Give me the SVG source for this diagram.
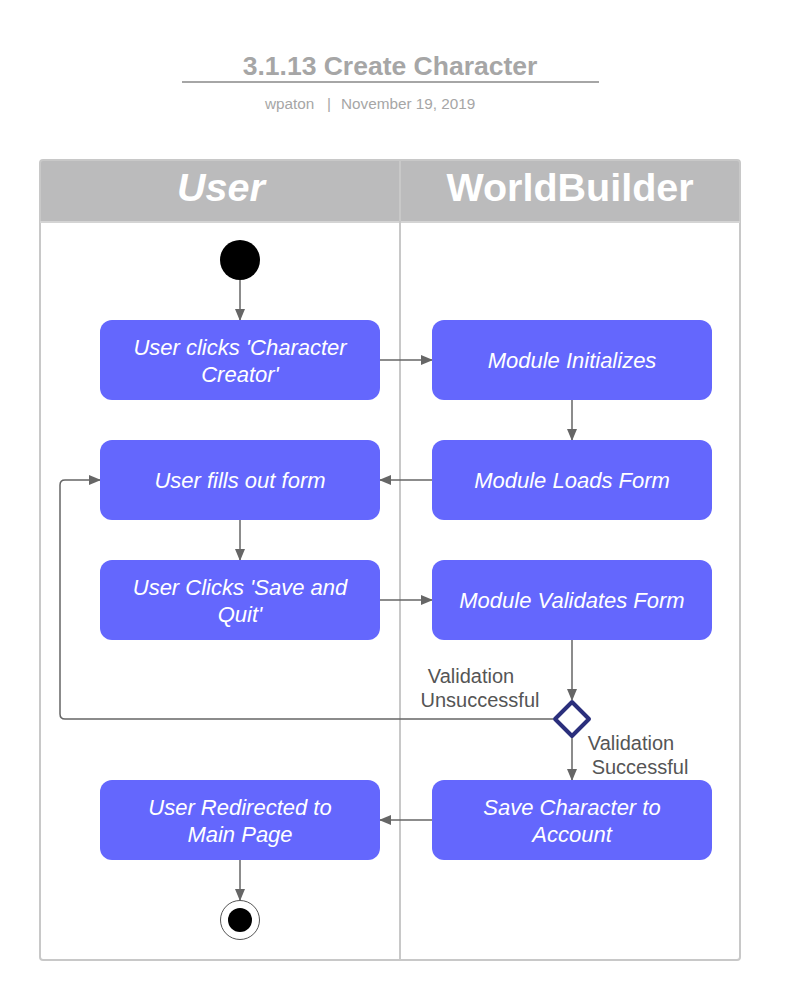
<svg xmlns="http://www.w3.org/2000/svg" width="800" height="1000" viewBox="0 0 800 1000">
  <defs>
    <marker id="arrow" viewBox="0 0 12 12" refX="11" refY="6" markerWidth="12" markerHeight="12" markerUnits="userSpaceOnUse" orient="auto">
      <path d="M0,1 L12,6 L0,11 Z" fill="#666666"/>
    </marker>
    <style>
      .title { font-family: "Liberation Sans", Arial, sans-serif; font-size: 26.5px; font-weight: bold; fill: #a6a6a6; }
      .sub { font-family: "Liberation Sans", Arial, sans-serif; font-size: 15.3px; fill: #a6a6a6; }
      .lane-head { font-family: "Liberation Sans", Arial, sans-serif; font-size: 39.5px; font-weight: bold; fill: #ffffff; }
      .act rect { fill: #6467fd; }
      .act text { font-family: "Liberation Sans", Arial, sans-serif; font-size: 22px; font-style: italic; fill: #ffffff; text-anchor: middle; }
      .edge { fill: none; stroke: #666666; stroke-width: 1.5; marker-end: url(#arrow); }
      .lbl { font-family: "Liberation Sans", Arial, sans-serif; font-size: 20px; fill: #555555; text-anchor: middle; }
    </style>
  </defs>

  <rect width="800" height="1000" fill="#ffffff"/>

  <!-- Title block -->
  <g id="title">
    <text class="title" x="390" y="75" text-anchor="middle">3.1.13 Create Character</text>
    <line x1="182" y1="82" x2="599" y2="82" stroke="#a6a6a6" stroke-width="2"/>
    <text class="sub" x="265" y="109">wpaton</text>
    <text class="sub" x="327" y="109">|</text>
    <text class="sub" x="341" y="109">November 19, 2019</text>
  </g>

  <!-- Swimlane frame -->
  <g id="swimlanes">
    <path d="M40,222 V163 Q40,160 43,160 H737 Q740,160 740,163 V222 Z" fill="#bbbbbc"/>
    <rect x="40" y="160" width="700" height="800" rx="3" fill="none" stroke="#c8c8c8" stroke-width="2"/>
    <line x1="40" y1="222" x2="740" y2="222" stroke="#d4d4d4" stroke-width="2"/>
    <line x1="400" y1="160" x2="400" y2="960" stroke="#c8c8c8" stroke-width="2"/>
    <text class="lane-head" x="221" y="201" text-anchor="middle" font-style="italic">User</text>
    <text class="lane-head" x="570" y="201" text-anchor="middle">WorldBuilder</text>
  </g>

  <!-- Connectors -->
  <g id="connectors">
    <line class="edge" x1="240" y1="280" x2="240" y2="320"/>
    <line class="edge" x1="380" y1="360" x2="432" y2="360"/>
    <line class="edge" x1="572" y1="400" x2="572" y2="440"/>
    <line class="edge" x1="432" y1="480" x2="380" y2="480"/>
    <line class="edge" x1="240" y1="520" x2="240" y2="560"/>
    <line class="edge" x1="380" y1="600" x2="432" y2="600"/>
    <line class="edge" x1="572" y1="640" x2="572" y2="700"/>
    <line class="edge" x1="572" y1="738" x2="572" y2="780"/>
    <line class="edge" x1="432" y1="820" x2="380" y2="820"/>
    <line class="edge" x1="240" y1="860" x2="240" y2="900"/>
    <path class="edge" d="M553,719 H65 Q60,719 60,714 V485 Q60,480 65,480 H100"/>
    <text class="lbl" x="471" y="683">Validation</text>
    <text class="lbl" x="480" y="707">Unsuccessful</text>
    <text class="lbl" x="631" y="750">Validation</text>
    <text class="lbl" x="640" y="774">Successful</text>
  </g>

  <!-- Start -->
  <g id="start">
    <circle cx="240" cy="260" r="20" fill="#000000"/>
  </g>

  <!-- User lane activities -->
  <g id="user-clicks-creator" class="act">
    <rect x="100" y="320" width="280" height="80" rx="12"/>
    <text x="240" y="355">User clicks 'Character</text>
    <text x="240" y="382">Creator'</text>
  </g>
  <g id="user-fills-form" class="act">
    <rect x="100" y="440" width="280" height="80" rx="12"/>
    <text x="240" y="488">User fills out form</text>
  </g>
  <g id="user-save-quit" class="act">
    <rect x="100" y="560" width="280" height="80" rx="12"/>
    <text x="240" y="595">User Clicks 'Save and</text>
    <text x="240" y="622">Quit'</text>
  </g>
  <g id="user-redirected" class="act">
    <rect x="100" y="780" width="280" height="80" rx="12"/>
    <text x="240" y="815">User Redirected to</text>
    <text x="240" y="842">Main Page</text>
  </g>

  <!-- WorldBuilder lane activities -->
  <g id="module-init" class="act">
    <rect x="432" y="320" width="280" height="80" rx="12"/>
    <text x="572" y="368">Module Initializes</text>
  </g>
  <g id="module-loads" class="act">
    <rect x="432" y="440" width="280" height="80" rx="12"/>
    <text x="572" y="488">Module Loads Form</text>
  </g>
  <g id="module-validates" class="act">
    <rect x="432" y="560" width="280" height="80" rx="12"/>
    <text x="572" y="608">Module Validates Form</text>
  </g>
  <g id="save-character" class="act">
    <rect x="432" y="780" width="280" height="80" rx="12"/>
    <text x="572" y="815">Save Character to</text>
    <text x="572" y="842">Account</text>
  </g>

  <!-- Decision -->
  <g id="decision">
    <path d="M572,702 L589,719 L572,736 L555,719 Z" fill="#ffffff" stroke="#2b2f7c" stroke-width="4" stroke-linejoin="round"/>
  </g>

  <!-- End -->
  <g id="end">
    <circle cx="240" cy="920" r="19.5" fill="#ffffff" stroke="#555555" stroke-width="1"/>
    <circle cx="240" cy="920" r="12" fill="#000000"/>
  </g>
</svg>
